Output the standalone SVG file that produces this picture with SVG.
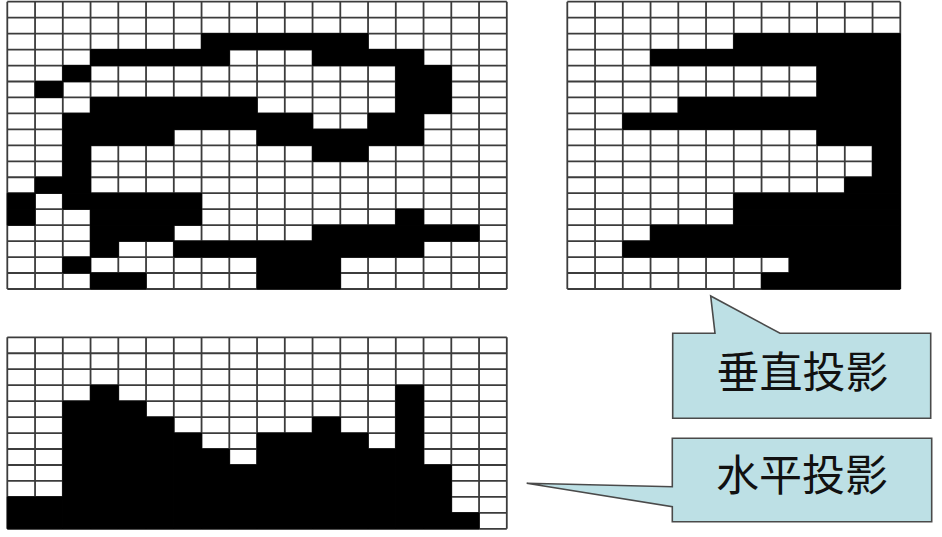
<svg xmlns="http://www.w3.org/2000/svg" width="942" height="537" viewBox="0 0 942 537">
<style>
.bk rect{fill:#000;stroke:#000;stroke-width:0.9;vector-effect:non-scaling-stroke}
.gl{fill:none;stroke:#3c3c3c;stroke-width:1.8;vector-effect:non-scaling-stroke}
.co{fill:#BDE0E5;stroke:#4a4a4a;stroke-width:1.6}
.lb{font-family:"Noto Sans CJK SC","Noto Sans CJK JP",sans-serif;font-size:43px;fill:#111;text-anchor:middle}
</style>
<rect width="942" height="537" fill="#fff"/>

<g id="grid-image" transform="translate(7.3,1.7) scale(27.75,15.96)">
<rect width="18" height="18" fill="#fff"/>
<path class="gl" d="M0 0V18M1 0V18M2 0V18M3 0V18M4 0V18M5 0V18M6 0V18M7 0V18M8 0V18M9 0V18M10 0V18M11 0V18M12 0V18M13 0V18M14 0V18M15 0V18M16 0V18M17 0V18M18 0V18M0 0H18M0 1H18M0 2H18M0 3H18M0 4H18M0 5H18M0 6H18M0 7H18M0 8H18M0 9H18M0 10H18M0 11H18M0 12H18M0 13H18M0 14H18M0 15H18M0 16H18M0 17H18M0 18H18"/>
<g class="bk">
<rect x="7" y="2" width="6" height="1"/>
<rect x="3" y="3" width="5" height="1"/><rect x="11" y="3" width="4" height="1"/>
<rect x="2" y="4" width="1" height="1"/><rect x="14" y="4" width="2" height="1"/>
<rect x="1" y="5" width="1" height="1"/><rect x="14" y="5" width="2" height="1"/>
<rect x="3" y="6" width="6" height="1"/><rect x="14" y="6" width="2" height="1"/>
<rect x="2" y="7" width="9" height="1"/><rect x="13" y="7" width="2" height="1"/>
<rect x="2" y="8" width="4" height="1"/><rect x="9" y="8" width="6" height="1"/>
<rect x="2" y="9" width="1" height="1"/><rect x="11" y="9" width="2" height="1"/>
<rect x="2" y="10" width="1" height="1"/>
<rect x="1" y="11" width="2" height="1"/>
<rect x="0" y="12" width="1" height="1"/><rect x="2" y="12" width="5" height="1"/>
<rect x="0" y="13" width="1" height="1"/><rect x="3" y="13" width="4" height="1"/><rect x="14" y="13" width="1" height="1"/>
<rect x="3" y="14" width="3" height="1"/><rect x="11" y="14" width="6" height="1"/>
<rect x="3" y="15" width="1" height="1"/><rect x="6" y="15" width="9" height="1"/>
<rect x="2" y="16" width="1" height="1"/><rect x="9" y="16" width="3" height="1"/>
<rect x="3" y="17" width="2" height="1"/><rect x="9" y="17" width="3" height="1"/>
</g>
</g>

<g id="grid-row-projection" transform="translate(567.3,1.7) scale(27.75,15.96)">
<rect width="12" height="18" fill="#fff"/>
<path class="gl" d="M0 0V18M1 0V18M2 0V18M3 0V18M4 0V18M5 0V18M6 0V18M7 0V18M8 0V18M9 0V18M10 0V18M11 0V18M12 0V18M0 0H12M0 1H12M0 2H12M0 3H12M0 4H12M0 5H12M0 6H12M0 7H12M0 8H12M0 9H12M0 10H12M0 11H12M0 12H12M0 13H12M0 14H12M0 15H12M0 16H12M0 17H12M0 18H12"/>
<g class="bk">
<rect x="6" y="2" width="6" height="1"/>
<rect x="3" y="3" width="9" height="1"/>
<rect x="9" y="4" width="3" height="1"/>
<rect x="9" y="5" width="3" height="1"/>
<rect x="4" y="6" width="8" height="1"/>
<rect x="2" y="7" width="10" height="1"/>
<rect x="9" y="8" width="3" height="1"/>
<rect x="11" y="9" width="1" height="1"/>
<rect x="11" y="10" width="1" height="1"/>
<rect x="10" y="11" width="2" height="1"/>
<rect x="6" y="12" width="6" height="1"/>
<rect x="6" y="13" width="6" height="1"/>
<rect x="3" y="14" width="9" height="1"/>
<rect x="2" y="15" width="10" height="1"/>
<rect x="8" y="16" width="4" height="1"/>
<rect x="7" y="17" width="5" height="1"/>
</g>
</g>

<g id="grid-column-projection" transform="translate(7.3,337.3) scale(27.75,15.96)">
<rect width="18" height="12" fill="#fff"/>
<path class="gl" d="M0 0V12M1 0V12M2 0V12M3 0V12M4 0V12M5 0V12M6 0V12M7 0V12M8 0V12M9 0V12M10 0V12M11 0V12M12 0V12M13 0V12M14 0V12M15 0V12M16 0V12M17 0V12M18 0V12M0 0H18M0 1H18M0 2H18M0 3H18M0 4H18M0 5H18M0 6H18M0 7H18M0 8H18M0 9H18M0 10H18M0 11H18M0 12H18"/>
<g class="bk">
<rect x="0" y="10" width="2" height="2"/>
<rect x="2" y="4" width="1" height="8"/>
<rect x="3" y="3" width="1" height="9"/>
<rect x="4" y="4" width="1" height="8"/>
<rect x="5" y="5" width="1" height="7"/>
<rect x="6" y="6" width="1" height="6"/>
<rect x="7" y="7" width="1" height="5"/>
<rect x="8" y="8" width="1" height="4"/>
<rect x="9" y="6" width="2" height="6"/>
<rect x="11" y="5" width="1" height="7"/>
<rect x="12" y="6" width="1" height="6"/>
<rect x="13" y="7" width="1" height="5"/>
<rect x="14" y="3" width="1" height="9"/>
<rect x="15" y="8" width="1" height="4"/>
<rect x="16" y="11" width="1" height="1"/>
</g>
</g>

<g id="callout-vertical">
<path class="co" d="M672.7 333.3H715L710.7 296L780 333.3H930.7V418.3H672.7Z"/>
<text class="lb" x="802.5" y="388">垂直投影</text>
</g>

<g id="callout-horizontal">
<path class="co" d="M672.3 438.3H931.7V521.7H672.3V506.7L526.7 483.3L672.3 486.7Z"/>
<text class="lb" x="802" y="491">水平投影</text>
</g>
</svg>
